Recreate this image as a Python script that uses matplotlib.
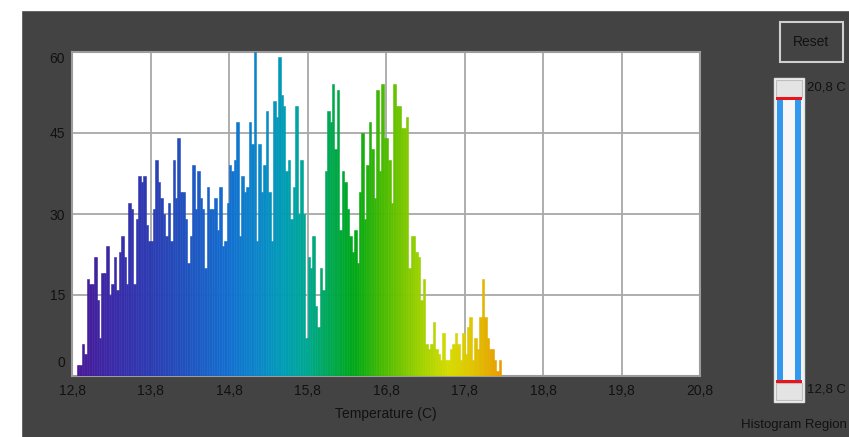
import numpy as np
import matplotlib
matplotlib.use("Agg")
import matplotlib.pyplot as plt
from matplotlib.colors import LinearSegmentedColormap, Normalize
from matplotlib.patches import Rectangle
from matplotlib.transforms import ScaledTranslation

# histogram: 256 bins over 12.8 .. 20.8 C, only the first ones are filled
t_min = 12.8
t_max = 20.8
bin_w = (t_max - t_min) / 256

counts = [
    0, 0, 2, 2, 6, 4, 18, 17, 17, 22, 14, 7, 19, 19, 24, 15, 17, 22, 16, 23,
    26, 22, 17, 32, 31, 17, 29, 37, 36, 37, 28, 25, 25, 31, 40, 36, 33, 30, 26, 32,
    25, 40, 33, 44, 34, 34, 29, 21, 26, 39, 31, 38, 33, 31, 20, 35, 31, 31, 33, 27,
    35, 24, 25, 32, 39, 38, 40, 47, 26, 37, 34, 35, 47, 43, 60, 25, 43, 34, 39, 49,
    34, 25, 51, 48, 59, 52, 50, 38, 40, 29, 35, 50, 30, 40, 30, 7, 22, 20, 26, 13,
    9, 20, 16, 38, 49, 47, 54, 42, 53, 27, 38, 36, 31, 26, 23, 27, 21, 34, 45, 29,
    39, 47, 42, 33, 53, 38, 54, 44, 44, 40, 32, 54, 50, 50, 46, 46, 48, 20, 26, 26,
    23, 22, 14, 18, 6, 5, 6, 10, 5, 4, 3, 8, 3, 3, 5, 6, 8, 6, 3, 8,
    4, 9, 11, 3, 7, 5, 11, 18, 11, 7, 5, 5, 3, 1, 3,
]

x_ticks = [12.8, 13.8, 14.8, 15.8, 16.8, 17.8, 18.8, 19.8, 20.8]
x_labels = ["12,8", "13,8", "14,8", "15,8", "16,8", "17,8", "18,8", "19,8", "20,8"]
y_ticks = [0, 15, 30, 45, 60]

# colour ramp of the thermal palette, by temperature
ramp_t = [12.8, 13.3, 13.8, 14.3, 14.8, 15.2, 15.5, 15.8, 16.1, 16.4, 16.8, 17.2, 17.6, 17.9, 18.3]
ramp_c = ["#4b1795", "#3a2aa8", "#2c3cb2", "#1f55c0", "#1270d0", "#0a88c8", "#009eb4",
          "#00a890", "#00a850", "#00a818", "#50bc00", "#98d000", "#d4dc00", "#e0c400", "#e89800"]

W, H = 849, 437
BG = "#434343"
INK = "#111111"
plt.rcParams["font.family"] = ["Liberation Sans Narrow", "Liberation Sans", "DejaVu Sans"]


def fx(x):
    return x / W


def fy(y):
    return 1 - y / H


fig = plt.figure(figsize=(W / 100, H / 100), dpi=100)
fig.patch.set_facecolor(BG)

# white margins of the screenshot
fig.add_artist(Rectangle((0, 0), fx(21), 1, transform=fig.transFigure, color="white", zorder=0))
fig.add_artist(Rectangle((0, fy(10)), 1, 10 / H, transform=fig.transFigure, color="white", zorder=0))

ax = fig.add_axes([fx(72), fy(376), 628 / W, 324 / H])
ax.set_facecolor("white")

span = (ramp_t[0], ramp_t[-1])
cmap = LinearSegmentedColormap.from_list(
    "thermal", [((t - span[0]) / (span[1] - span[0]), c) for t, c in zip(ramp_t, ramp_c)])
norm = Normalize(*span)

counts = np.array(counts, dtype=float)
left = t_min + bin_w * np.arange(len(counts))
cols = cmap(norm(left + bin_w / 2))
ax.bar(left, counts, width=bin_w, align="edge", color=cols, edgecolor=cols,
       linewidth=0.4, zorder=3)

ax.set_xlim(t_min, t_max)
ax.set_ylim(0, 60)
ax.set_xticks(x_ticks, x_labels)
ax.set_yticks(y_ticks, [str(v) for v in y_ticks])
ax.grid(True, color="#a8a8a8", linewidth=1.3, zorder=1)
ax.set_axisbelow(True)
ax.tick_params(length=0, labelsize=10, labelcolor=INK)
ax.tick_params(axis="y", pad=5)
ax.tick_params(axis="x", pad=6)
for s in ax.spines.values():
    s.set_color("#9c9c9c")
    s.set_linewidth(1.5)
ylab = ax.get_yticklabels()
ylab[0].set_va("bottom")
ylab[0].set_transform(ylab[0].get_transform() + ScaledTranslation(0, 6 / 100, fig.dpi_scale_trans))
ylab[-1].set_va("top")
ax.set_xlabel("Temperature (C)", fontsize=10, color=INK, labelpad=6)


# right hand controls
def box(x0, y0, x1, y1, **kw):
    fig.add_artist(Rectangle((fx(x0), fy(y1)), (x1 - x0) / W, (y1 - y0) / H,
                             transform=fig.transFigure, **kw))


box(780, 22, 843, 62, facecolor=BG, edgecolor="#cfcfcf", linewidth=1.5)
fig.text(fx(811.5), fy(42), "Reset", ha="center", va="center", fontsize=10, color=INK)

box(774, 78, 804, 402, facecolor="#f2f2f2", edgecolor="#e0e0e0", linewidth=1)
box(777, 97, 801, 382, facecolor="#3399ee", edgecolor="none")
box(783, 99, 795, 380, facecolor="#f7f7f7", edgecolor="none")
box(776, 80, 802, 97, facecolor="#e4e4e4", edgecolor="#bdbdbd", linewidth=0.8)
box(776, 383, 802, 400, facecolor="#e4e4e4", edgecolor="#bdbdbd", linewidth=0.8)
box(776, 97, 802, 100, facecolor="#e8141c", edgecolor="none")
box(776, 380, 802, 383, facecolor="#e8141c", edgecolor="none")

fig.text(fx(807), fy(88), "20,8 C", ha="left", va="center", fontsize=9.5, color=INK)
fig.text(fx(807), fy(390), "12,8 C", ha="left", va="center", fontsize=9.5, color=INK)
fig.text(fx(847), fy(425), "Histogram Region", ha="right", va="center", fontsize=9.5, color=INK)

fig.savefig("out.png", dpi=100, facecolor=fig.get_facecolor())
